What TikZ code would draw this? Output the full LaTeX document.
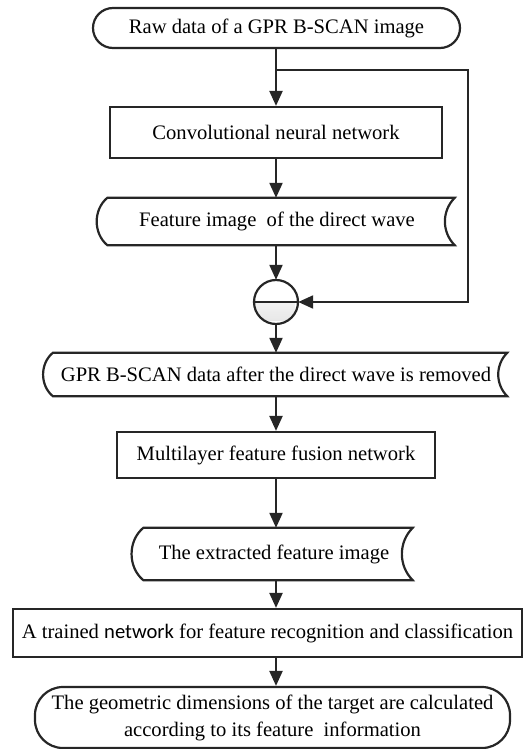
\documentclass[tikz,border=0pt]{standalone}
\usepackage{fontspec}
\setmainfont{Liberation Serif}
\newfontfamily\carlito{Carlito}
\usetikzlibrary{arrows.meta,calc}
\tikzset{
  ln/.style={line width=2.2pt, draw=black!85},
  arr/.style={ln, -{Triangle[length=15pt,width=13pt]}},
  txt/.style={font=\fontsize{20.6}{27}\selectfont, inner sep=0pt, align=center},
  termbox/.style={txt, ln, rectangle, rounded corners=20pt},
  procbox/.style={txt, ln, rectangle},
  databox/.style={txt, draw=none, rectangle},
}
\newcommand\sdshape[1]{%
  \draw[ln, line join=miter] ([xshift=8pt]#1.north west) -- (#1.north east)
    to[out=225,in=135] (#1.south east) -- ([xshift=8pt]#1.south west)
    to[out=140,in=220] ([xshift=8pt]#1.north west) -- cycle;}
\begin{document}
\begin{tikzpicture}[x=1pt,y=-1pt]
\useasboundingbox (0,0) rectangle (530,749);
\node[termbox, minimum width=367pt, minimum height=40pt] (t1) at (276.5,28) {Raw data of a GPR B-SCAN image};
\node[procbox, minimum width=332pt, minimum height=51pt] (conv) at (276,132.5) {Convolutional neural network};
\node[databox, minimum width=355pt, minimum height=47pt] (feat) at (277,221.5) {Feature image\ \ of the direct wave};
\sdshape{feat}
\node[circle, minimum size=44pt, inner sep=0pt] (minus) at (276,302) {};
\begin{scope}
  \clip ([xshift=-3pt]minus.west) rectangle ([xshift=3pt,yshift=-3pt]minus.south east);
  \shade[top color=white, bottom color=black!10] (minus.center) circle[radius=22pt];
\end{scope}
\draw[ln] (minus.center) circle[radius=22pt];
\draw[ln] (minus.west) -- (minus.east);
\node[databox, minimum width=462pt, minimum height=43pt] (gpr) at (276,374.5) {GPR B-SCAN data after the direct wave is removed};
\sdshape{gpr}
\node[procbox, minimum width=318pt, minimum height=46pt] (multi) at (276,455) {Multilayer feature fusion network};
\node[databox, minimum width=277pt, minimum height=52pt] (extr) at (274,554) {The extracted feature image};
\sdshape{extr}
\node[procbox, minimum width=509pt, minimum height=48pt] (trained) at (267.5,633) {A trained {\carlito network} for feature recognition and classification};
\node[termbox, rounded corners=28pt, minimum width=475pt, minimum height=61pt] (final) at (272.5,717.5) {The geometric dimensions of the target are calculated\\according to its feature\ \ information};
\coordinate (j) at (276,70);
\coordinate (fb) at (468,70);
\draw[arr] (t1.south -| conv.north) -- (conv.north);
\draw[arr] (j) -- (fb) |- (minus.east);
\draw[arr] (conv.south) -- (conv.south |- feat.north);
\draw[arr] (conv.south |- feat.south) -- (minus.north);
\draw[arr] (minus.south) -- (minus.south |- gpr.north);
\draw[arr] (gpr.south -| multi.north) -- (multi.north);
\draw[arr] (multi.south) -- (multi.south |- extr.north);
\draw[arr] (multi.south |- extr.south) -- (multi.south |- trained.north);
\draw[arr] (multi.south |- trained.south) -- (multi.south |- final.north);
\end{tikzpicture}
\end{document}
